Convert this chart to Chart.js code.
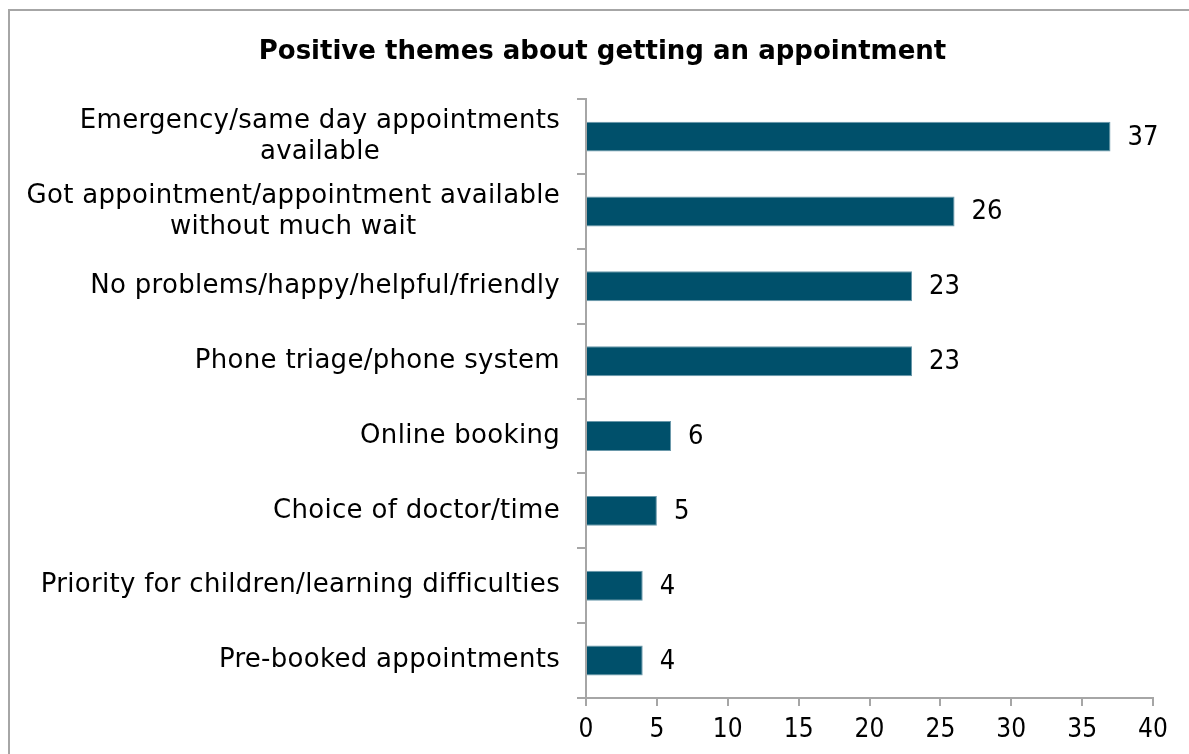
<!DOCTYPE html>
<html>
<head>
<meta charset="utf-8">
<script src="https://cdn.jsdelivr.net/npm/chart.js@4"></script>
<style>
    html, body { margin: 0; padding: 0; background: #fff; }
    #wrap { position: relative; width: 1189px; height: 754px; overflow: hidden; }
    #frame {
        position: absolute; left: 8px; top: 9px; width: 1200px; height: 800px;
        border-left: 2px solid #a6a6a6; border-top: 2px solid #a6a6a6;
    }
    canvas { position: absolute; left: 0; top: 0; }
</style>
</head>
<body>
<div id="wrap">
    <div id="frame"></div>
    <canvas id="themesChart" width="1189" height="754"></canvas>
</div>
<script>
const chartTitle = 'Positive themes about getting an appointment';
const themes = [
    ['Emergency/same day appointments', 'available'],
    ['Got appointment/appointment available', 'without much wait'],
    ['No problems/happy/helpful/friendly'],
    ['Phone triage/phone system'],
    ['Online booking'],
    ['Choice of doctor/time'],
    ['Priority for children/learning difficulties'],
    ['Pre-booked appointments']
];
const counts = [37, 26, 23, 23, 6, 5, 4, 4];
const xTicks = [0, 5, 10, 15, 20, 25, 30, 35, 40];

const FONT = '"DejaVu Sans", sans-serif';
const NUM_FONT = '"DejaVu Sans Condensed", "DejaVu Sans", sans-serif';
const labelFont = '26px ' + FONT;
const valueFont = '27px ' + NUM_FONT;
const PAD_LEFT = 52;

// category labels: multi-line ones are centred on their widest line, flush to the axis
const themeLabels = {
    id: 'themeLabels',
    afterDraw(chart) {
        const ctx = chart.ctx;
        const yScale = chart.scales.y;
        const right = yScale.right - 26;
        const lineH = 31;
        ctx.save();
        ctx.font = labelFont;
        ctx.letterSpacing = '0.3px';
        ctx.fillStyle = '#000';
        ctx.textBaseline = 'middle';
        ctx.textAlign = 'center';
        themes.forEach((lines, i) => {
            const yc = yScale.getPixelForValue(i);
            const maxW = Math.max(...lines.map(l => ctx.measureText(l).width));
            const cx = right - maxW / 2;
            const top = yc - (lines.length - 1) * lineH / 2;
            lines.forEach((l, j) => ctx.fillText(l, cx, top + j * lineH));
        });
        ctx.restore();
    }
};

// value labels at the end of each bar
const valueLabels = {
    id: 'valueLabels',
    afterDatasetsDraw(chart) {
        const ctx = chart.ctx;
        const meta = chart.getDatasetMeta(0);
        ctx.save();
        ctx.font = valueFont;
        ctx.fillStyle = '#000';
        ctx.textBaseline = 'middle';
        ctx.textAlign = 'left';
        meta.data.forEach((bar, i) => {
            ctx.fillText(String(counts[i]), bar.x + 17, bar.y + 1);
        });
        ctx.restore();
    }
};

new Chart(document.getElementById('themesChart'), {
    type: 'bar',
    data: {
        labels: themes.map(l => l.join(' ')),
        datasets: [{
            data: counts,
            backgroundColor: '#00506b',
            borderColor: '#6a98aa',
            borderWidth: 1,
            barPercentage: 0.8,
            categoryPercentage: 0.5
        }]
    },
    options: {
        indexAxis: 'y',
        responsive: false,
        animation: false,
        layout: { padding: { left: PAD_LEFT, right: 36, top: 0, bottom: 0 } },
        plugins: {
            legend: { display: false },
            tooltip: { enabled: false },
            title: {
                display: true,
                text: chartTitle,
                color: '#000',
                font: { family: FONT, size: 26, weight: 'bold', lineHeight: 1.2 },
                padding: { top: 37, bottom: 31 }
            }
        },
        scales: {
            x: {
                min: 0,
                max: 40,
                afterBuildTicks(scale) {
                    scale.ticks = xTicks.map(v => ({ value: v }));
                },
                afterFit(scale) { scale.height = 56; },
                grid: {
                    drawOnChartArea: false,
                    drawTicks: true,
                    tickLength: 8,
                    color: '#a6a6a6',
                    lineWidth: 2
                },
                border: { color: '#a6a6a6', width: 2 },
                ticks: {
                    color: '#000',
                    font: { family: NUM_FONT, size: 26 },
                    padding: 9,
                    maxRotation: 0
                }
            },
            y: {
                afterFit(scale) { scale.width = 586 - PAD_LEFT; },
                grid: {
                    offset: true,
                    drawOnChartArea: false,
                    drawTicks: true,
                    tickLength: 9,
                    color: '#a6a6a6',
                    lineWidth: 2
                },
                border: { color: '#a6a6a6', width: 2 },
                ticks: { display: false }
            }
        }
    },
    plugins: [themeLabels, valueLabels]
});
</script>
</body>
</html>
